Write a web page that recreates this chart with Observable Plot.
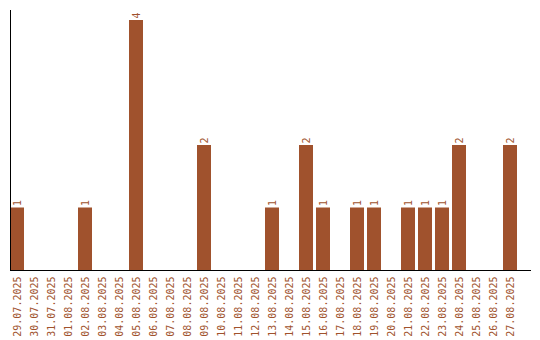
<!DOCTYPE html>
<html>
<head>
<meta charset="utf-8">
<script src="https://cdn.jsdelivr.net/npm/d3@7"></script>
<script src="https://cdn.jsdelivr.net/npm/@observablehq/plot@0.6"></script>
<style>
  html, body { margin: 0; padding: 0; background: #fff; }
  svg { display: block; }
</style>
</head>
<body>
<div id="chart"></div>
<script>
const dates = ["29.07.2025","30.07.2025","31.07.2025","01.08.2025","02.08.2025","03.08.2025","04.08.2025","05.08.2025","06.08.2025","07.08.2025","08.08.2025","09.08.2025","10.08.2025","11.08.2025","12.08.2025","13.08.2025","14.08.2025","15.08.2025","16.08.2025","17.08.2025","18.08.2025","19.08.2025","20.08.2025","21.08.2025","22.08.2025","23.08.2025","24.08.2025","25.08.2025","26.08.2025","27.08.2025"];
const counts = [1,0,0,0,1,0,0,4,0,0,0,2,0,0,0,1,0,2,1,0,1,1,0,1,1,1,2,0,0,2];

const data = dates.map((d, i) => ({date: d, value: counts[i]}));
const labeled = data.filter(d => d.value > 0);
const color = "#A0522D";

const chart = Plot.plot({
  width: 540,
  height: 340,
  marginLeft: 10,
  marginRight: 10,
  marginTop: 10,
  marginBottom: 70,
  style: {fontFamily: "'DejaVu Sans Mono', monospace", fontSize: "10px", background: "#fff"},
  x: {domain: dates, paddingInner: 0.176, paddingOuter: 0.382, align: 0, label: null},
  y: {domain: [0, 4.16], axis: null},
  marks: [
    Plot.barY(data, {x: "date", y: "value", fill: color}),
    Plot.text(labeled, {x: "date", y: "value", text: d => String(d.value), rotate: -90, textAnchor: "start", dy: -2, fill: color}),
    Plot.axisX({tickSize: 0, tickPadding: 6, tickRotate: -90, fill: color, label: null}),
    Plot.frame({anchor: "left", stroke: "#000"}),
    Plot.frame({anchor: "bottom", stroke: "#000"})
  ]
});
document.getElementById("chart").appendChild(chart);
</script>
</body>
</html>
